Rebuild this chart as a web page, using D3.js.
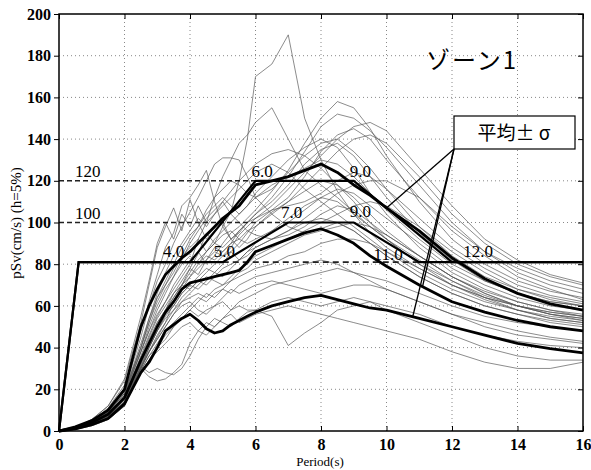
<!DOCTYPE html>
<html>
<head>
<meta charset="utf-8">
<script src="https://cdn.jsdelivr.net/npm/d3@7"></script>
<style>
  body { margin: 0; background: #fff; }
  svg text { font-family: "Liberation Serif", "Times New Roman", serif; }
</style>
</head>
<body>
<svg width="591" height="470"></svg>
<script>
// periods (s) shared by every record
var periods = [0, 0.5, 1, 1.5, 2, 2.5, 2.75, 3, 3.25, 3.5, 3.75, 4, 4.25, 4.5, 4.75, 5, 5.25, 5.5, 5.75, 6,
               6.5, 7, 7.5, 8, 8.5, 9, 9.5, 10, 11, 12, 13, 14, 15, 16];

// individual records, pSv (cm/s)
var records = [
  [0,1.5,4,8,16,30,38,45,52,62,70,78,85,95,90,98,105,120,140,170,176,190,150,130,115,104,95,88,78,70,64,60,57,55],
  [0,1.5,4.5,9,18,38,48,56,62,68,74,80,92,100,112,122,130,138,142,148,155,140,125,118,112,105,98,92,80,72,65,60,56,53],
  [0,1.5,5,10,20,45,60,72,80,90,98,105,112,120,128,131,131,130,122,112,104,98,95,97,100,96,90,84,74,66,60,56,53,51],
  [0,1.5,5,11,22,48,62,75,88,95,108,112,118,125,110,98,92,95,100,104,110,118,128,135,138,132,122,112,95,82,72,66,62,60],
  [0,1.5,5.5,12,24,52,70,88,98,107,96,111,100,92,96,100,92,88,92,98,105,110,115,120,118,112,104,96,84,74,67,62,58,56],
  [0,1.2,4,8,17,36,46,55,62,70,76,82,86,80,84,90,95,98,102,106,115,125,138,150,158,155,145,132,110,92,80,72,67,64],
  [0,1.2,4,8,16,34,44,52,58,66,72,78,75,82,88,86,90,96,100,104,112,122,134,146,152,150,144,136,118,100,86,76,70,66],
  [0,1,3.5,7,15,30,40,48,56,60,66,70,74,78,76,80,86,90,95,100,106,112,122,134,142,145,140,130,112,96,84,74,68,63],
  [0,1.4,4.5,9.5,19,40,52,64,72,80,88,94,98,104,108,112,108,104,108,114,122,130,136,140,136,126,114,104,88,76,68,62,58,55],
  [0,1.3,4.2,9,18,38,48,58,66,74,82,90,96,102,106,110,115,120,124,128,133,135,132,126,118,110,100,92,80,70,63,58,54,52],
  [0,1,3.5,7.5,15,32,40,48,55,60,66,70,68,72,76,74,78,82,84,88,92,96,100,102,100,96,90,84,74,66,60,56,52,50],
  [0,1,3.2,7,14,30,38,46,52,58,62,64,66,64,68,70,72,74,76,78,80,84,86,90,92,92,90,86,78,70,64,60,57,55],
  [0,1,3,6.5,13,28,34,40,44,50,54,58,55,58,60,62,58,60,58,58,55,41,47,52,58,60,62,60,56,50,46,43,41,40],
  [0,0.8,2.5,5.5,12,30,26,24,25,28,32,42,48,52,50,54,58,62,64,66,70,72,74,76,78,76,74,72,66,60,55,52,50,48],
  [0,0.8,2.5,5.5,12,31,28,30,28,27,30,36,44,50,54,52,50,54,57,58,62,64,62,60,62,64,62,58,52,46,40,36,34,34],
  [0,0.8,2.8,6,13,28,34,38,42,46,50,52,48,46,50,54,56,52,54,56,58,60,58,56,54,52,50,48,44,38,33,30,30,33],
  [0,1,3.5,7,15,32,42,50,56,62,68,74,80,84,82,86,90,92,96,98,104,110,118,126,134,140,142,138,122,104,90,80,74,70],
  [0,1,3.4,7,14,31,40,48,54,58,64,68,72,70,74,78,80,82,86,88,92,96,102,108,114,118,120,120,112,98,86,78,72,68],
  [0,1.3,4.5,9.5,19,42,54,64,70,78,84,88,92,86,90,94,96,92,90,92,96,100,106,112,116,114,108,102,90,78,70,64,60,58],
  [0,1,3,6.5,13,29,36,42,48,52,56,60,64,62,66,68,66,70,72,74,76,78,80,82,80,76,72,68,62,56,52,48,45,43],
  [0,1.5,5.5,12,25,55,72,90,100,92,104,98,108,100,104,110,104,100,96,94,92,94,98,104,108,106,100,94,84,74,66,60,56,54],
  [0,1.2,4,8.5,17,38,50,60,68,74,80,84,80,86,92,96,100,104,108,112,118,122,126,130,128,122,114,106,92,80,72,66,62,60],
  [0,1,3.3,7,14,30,38,44,50,56,60,62,58,56,60,64,68,66,68,70,72,70,68,66,68,70,70,68,62,56,50,46,44,42],
  [0,1.1,3.8,8,16,35,45,54,60,66,70,76,82,86,90,88,92,96,100,102,106,108,110,114,120,124,122,116,102,88,78,70,65,62],
  [0,1.2,4.2,9,18,40,52,62,70,76,84,92,98,106,112,116,120,118,114,112,116,124,132,138,140,134,126,116,98,84,74,68,64,61],
  [0,1,3.6,7.5,15,33,42,50,58,64,70,74,78,82,86,84,88,94,98,102,108,116,124,132,140,146,148,144,126,108,92,82,75,71],
  [0,1.3,4.4,9,19,40,54,66,76,84,90,96,102,98,104,108,112,116,120,124,128,124,116,110,104,98,92,86,76,68,62,58,55,53],
  [0,0.9,3,6.5,13,29,36,40,46,50,54,58,62,66,64,68,72,76,78,82,86,90,94,96,98,100,98,94,84,74,66,60,56,54],
  [0,1,3.2,7,14,31,38,44,50,56,62,66,70,74,72,70,74,78,80,84,88,92,96,100,104,108,110,108,98,86,76,68,63,60],
  [0,1.1,3.6,7.5,15,34,43,52,58,64,70,68,72,76,80,84,86,82,86,90,96,102,108,112,110,104,98,92,82,72,64,58,54,52]
];

// mean and mean +/- sigma
var meanPlus  = [0,2,5,10,20,50,60,68,75,79,83,86,90,94,98,102,105,108,113,118,120,122,125,128,124,118,113,107,96,83,73,66,61,58];
var meanLine  = [0,1.5,4,8,16,34,42,50,57,62,68,71,72,73,74,75,76,77,81,86,89,92,95,97,94,90,84,79,70,62,57,53,50,48];
var meanMinus = [0,1,3,6,13,28,33,40,48,51,54,56,53,49,47,48,51,53,55,57,60,62,64,65,63,61,59,58,54,50,46,42,39.5,37.5];

// design spectra [period, pSv]
var specA = [[0,0],[0.6,81],[4,81],[6,120],[9,120],[12,81],[16,81]];
var specB = [[0,0],[0.6,81],[5,81],[7,100],[9,100],[11,81],[16,81]];

var cornerLabels = [
  {t: "4.0", x: 3.5, v: 83.5}, {t: "5.0", x: 5.05, v: 83.5},
  {t: "6.0", x: 6.2, v: 122}, {t: "7.0", x: 7.1, v: 102},
  {t: "9.0", x: 9.2, v: 122}, {t: "9.0", x: 9.2, v: 102.5},
  {t: "11.0", x: 10.05, v: 82}, {t: "12.0", x: 12.8, v: 83.5}
];

// periods where the legend leaders touch mean+s, mean, mean-s
var leaderPeriods = [10.0, 11.1, 10.8];

var xTicks = [0, 2, 4, 6, 8, 10, 12, 14, 16];
var yTicks = [0, 20, 40, 60, 80, 100, 120, 140, 160, 180, 200];

var serif = "'Liberation Serif', 'Times New Roman', serif";
var svg = d3.select("svg");

var x = d3.scaleLinear().domain([0, 16]).range([59, 583]);
var y = d3.scaleLinear().domain([0, 200]).range([431, 14]);

// grid
svg.append("g")
  .selectAll("line")
  .data(xTicks.slice(1, -1))
  .enter().append("line")
    .attr("x1", function(d){ return x(d) }).attr("x2", function(d){ return x(d) })
    .attr("y1", y(0)).attr("y2", y(200))
    .attr("stroke", "#888").attr("stroke-width", 1).attr("stroke-dasharray", "1,3");
svg.append("g")
  .selectAll("line")
  .data(yTicks.slice(1, -1))
  .enter().append("line")
    .attr("x1", x(0)).attr("x2", x(16))
    .attr("y1", function(d){ return y(d) }).attr("y2", function(d){ return y(d) })
    .attr("stroke", "#888").attr("stroke-width", 1).attr("stroke-dasharray", "1,3");

var line = d3.line()
  .x(function(d, i){ return x(periods[i]) })
  .y(function(d){ return y(d) });

// records
svg.append("g")
  .selectAll("path")
  .data(records)
  .enter().append("path")
    .attr("d", line)
    .attr("fill", "none")
    .attr("stroke", "#555")
    .attr("stroke-width", 0.8)
    .attr("stroke-opacity", 0.85);

// reference levels
svg.append("line")
  .attr("x1", x(0)).attr("x2", x(6)).attr("y1", y(120)).attr("y2", y(120))
  .attr("stroke", "#222").attr("stroke-width", 1.5).attr("stroke-dasharray", "5,3");
svg.append("line")
  .attr("x1", x(0)).attr("x2", x(7)).attr("y1", y(100)).attr("y2", y(100))
  .attr("stroke", "#222").attr("stroke-width", 1.5).attr("stroke-dasharray", "5,3");
svg.append("line")
  .attr("x1", x(5)).attr("x2", x(12)).attr("y1", y(81)).attr("y2", y(81))
  .attr("stroke", "#222").attr("stroke-width", 1.8).attr("stroke-dasharray", "6,4");

// design spectra
var specLine = d3.line()
  .x(function(d){ return x(d[0]) })
  .y(function(d){ return y(d[1]) });
svg.append("g")
  .selectAll("path")
  .data([specA, specB])
  .enter().append("path")
    .attr("d", specLine)
    .attr("fill", "none")
    .attr("stroke", "#000")
    .attr("stroke-width", 2.2);

// mean +/- sigma
var stats = [meanPlus, meanLine, meanMinus];
svg.append("g")
  .selectAll("path")
  .data(stats)
  .enter().append("path")
    .attr("d", line)
    .attr("fill", "none")
    .attr("stroke", "#000")
    .attr("stroke-width", 2.8)
    .attr("stroke-linejoin", "round");

// level labels
svg.append("text").attr("x", 75).attr("y", y(120) - 4).text("120")
  .style("font-family", serif).style("font-size", "17px");
svg.append("text").attr("x", 75).attr("y", y(100) - 4).text("100")
  .style("font-family", serif).style("font-size", "17px");

svg.append("g")
  .selectAll("text")
  .data(cornerLabels)
  .enter().append("text")
    .attr("x", function(d){ return x(d.x) })
    .attr("y", function(d){ return y(d.v) })
    .attr("text-anchor", "middle")
    .style("font-family", serif)
    .style("font-size", "17px")
    .text(function(d){ return d.t });

// frame
svg.append("rect")
  .attr("x", x(0)).attr("y", y(200))
  .attr("width", x(16) - x(0)).attr("height", y(0) - y(200))
  .attr("fill", "none").attr("stroke", "#000").attr("stroke-width", 1.5);

// axes with inward ticks
svg.append("g")
  .attr("transform", "translate(0," + y(0) + ")")
  .call(d3.axisBottom(x).tickValues(xTicks).tickSize(-5).tickPadding(8))
  .call(function(g){ g.select(".domain").remove() })
  .selectAll("text").style("font-size", "16px").style("font-family", serif).style("font-weight", "bold");
svg.append("g")
  .attr("transform", "translate(" + x(0) + ",0)")
  .call(d3.axisLeft(y).tickValues(yTicks).tickSize(5).tickPadding(3))
  .call(function(g){ g.select(".domain").remove() })
  .selectAll("text").style("font-size", "16px").style("font-family", serif).style("font-weight", "bold");
svg.append("g")
  .attr("transform", "translate(0," + y(200) + ")")
  .call(d3.axisTop(x).tickValues(xTicks).tickSize(-5).tickFormat(""))
  .call(function(g){ g.select(".domain").remove() });
svg.append("g")
  .attr("transform", "translate(" + x(16) + ",0)")
  .call(d3.axisRight(y).tickValues(yTicks).tickSize(-5).tickFormat(""))
  .call(function(g){ g.select(".domain").remove() });

// axis titles
svg.append("text")
  .attr("transform", "translate(21,223) rotate(-90)")
  .attr("text-anchor", "middle")
  .style("font-family", serif)
  .style("font-size", "15px")
  .text("pSv(cm/s) (h=5%)");
svg.append("text")
  .attr("x", 320).attr("y", 466)
  .attr("text-anchor", "middle")
  .style("font-family", serif)
  .style("font-size", "13px")
  .text("Period(s)");

// zone title
svg.append("text")
  .attr("x", 472).attr("y", 69)
  .attr("text-anchor", "middle")
  .style("font-family", "'Noto Sans CJK JP'")
  .style("font-size", "24px")
  .style("letter-spacing", "2px")
  .text("ゾーン1");

// legend box with leaders to the three statistic curves
function valueAt(series, t) {
  var i = d3.bisectRight(periods, t) - 1;
  var f = (t - periods[i]) / (periods[i + 1] - periods[i]);
  return series[i] + f * (series[i + 1] - series[i]);
}
svg.append("g")
  .selectAll("line")
  .data(leaderPeriods)
  .enter().append("line")
    .attr("x1", 454).attr("y1", 149)
    .attr("x2", function(d){ return x(d) })
    .attr("y2", function(d, i){ return y(valueAt(stats[i], d)) })
    .attr("stroke", "#000").attr("stroke-width", 1.3);
svg.append("rect")
  .attr("x", 454).attr("y", 116).attr("width", 121).attr("height", 33)
  .attr("fill", "#fff").attr("stroke", "#000").attr("stroke-width", 1.2);
svg.append("text")
  .attr("x", 514).attr("y", 140)
  .attr("text-anchor", "middle")
  .style("font-family", "'Noto Sans CJK JP'")
  .style("font-size", "19px")
  .text("平均± σ");
</script>
</body>
</html>
